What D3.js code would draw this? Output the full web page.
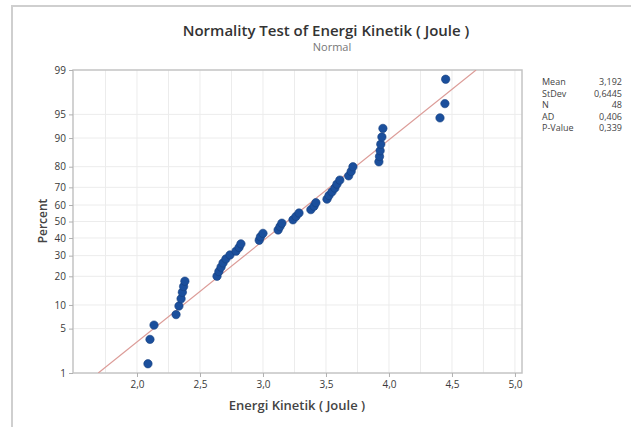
<!DOCTYPE html>
<html>
<head>
<meta charset="utf-8">
<script src="https://cdn.jsdelivr.net/npm/d3@7"></script>
<style>
  body { margin: 0; background: #fff; }
  svg text { font-family: "Open Sans", "Noto Sans", sans-serif; }
</style>
</head>
<body>
<svg id="chart" width="631" height="427"></svg>
<script>
const energi = [2.087, 2.103, 2.135, 2.31, 2.333, 2.35, 2.36, 2.37, 2.38,
  2.635, 2.65, 2.667, 2.683, 2.706, 2.738, 2.786, 2.81, 2.825,
  2.97, 2.98, 3.0, 3.12, 3.135, 3.15,
  3.238, 3.262, 3.286, 3.38, 3.405, 3.42,
  3.508, 3.524, 3.548, 3.571, 3.587, 3.61,
  3.68, 3.70, 3.714,
  3.92, 3.925, 3.93, 3.935, 3.944, 3.952,
  4.405, 4.444, 4.45];
const xTicks = [2.0, 2.5, 3.0, 3.5, 4.0, 4.5, 5.0];
const yTicks = [1, 5, 10, 20, 30, 40, 50, 60, 70, 80, 90, 95, 99];
const statLabels = ["Mean", "StDev", "N", "AD", "P-Value"];
const statValues = ["3,192", "0,6445", "48", "0,406", "0,339"];
const fitMean = 3.192, fitSd = 0.6445;

// inverse normal cdf (Acklam)
function qnorm(p){
  const a=[-3.969683028665376e+01,2.209460984245205e+02,-2.759285104469687e+02,1.383577518672690e+02,-3.066479806614716e+01,2.506628277459239e+00],
        b=[-5.447609879822406e+01,1.615858368580409e+02,-1.556989798598866e+02,6.680131188771972e+01,-1.328068155288572e+01],
        c=[-7.784894002430293e-03,-3.223964580411365e-01,-2.400758277161838e+00,-2.549732539343734e+00,4.374664141464968e+00,2.938163982698783e+00],
        d=[7.784695709041462e-03,3.224671290700398e-01,2.445134137142996e+00,3.754408661907416e+00];
  const pl=0.02425;
  let q,r;
  if (p<pl){ q=Math.sqrt(-2*Math.log(p));
    return (((((c[0]*q+c[1])*q+c[2])*q+c[3])*q+c[4])*q+c[5])/((((d[0]*q+d[1])*q+d[2])*q+d[3])*q+1); }
  if (p>1-pl){ q=Math.sqrt(-2*Math.log(1-p));
    return -(((((c[0]*q+c[1])*q+c[2])*q+c[3])*q+c[4])*q+c[5])/((((d[0]*q+d[1])*q+d[2])*q+d[3])*q+1); }
  q=p-0.5; r=q*q;
  return (((((a[0]*r+a[1])*r+a[2])*r+a[3])*r+a[4])*r+a[5])*q/(((((b[0]*r+b[1])*r+b[2])*r+b[3])*r+b[4])*r+1);
}

const svg = d3.select("#chart");
const plot = {left: 73, right: 522, top: 70, bottom: 373};
const comma = v => d3.format(".1f")(v).replace(".", ",");

const x = d3.scaleLinear().domain([1.492, 5.056]).range([plot.left, plot.right]);
const y = d3.scaleLinear().domain([qnorm(0.01), qnorm(0.99)]).range([plot.bottom, plot.top]);
const yp = pct => y(qnorm(pct / 100));

// outer frame
svg.append("path").attr("d", "M12,427V6H631").attr("fill", "none")
  .attr("stroke", "#cfcfcf").attr("stroke-width", 2);

// gridlines
const grid = svg.append("g").attr("stroke", "#ececec").attr("stroke-width", 1);
grid.selectAll("line.v").data(d3.range(1.75, 5.01, 0.25)).enter().append("line")
  .attr("x1", d => x(d)).attr("x2", d => x(d)).attr("y1", plot.top).attr("y2", plot.bottom);
grid.selectAll("line.h").data(yTicks.slice(1, -1)).enter().append("line")
  .attr("x1", plot.left).attr("x2", plot.right).attr("y1", d => yp(d)).attr("y2", d => yp(d));

// plot border
svg.append("rect").attr("x", plot.left).attr("y", plot.top)
  .attr("width", plot.right - plot.left).attr("height", plot.bottom - plot.top)
  .attr("fill", "none").attr("stroke", "#c4c4c4").attr("stroke-width", 1.5);

// axes
const xAxis = svg.append("g").attr("transform", `translate(0,${plot.bottom})`)
  .call(d3.axisBottom(x).tickValues(xTicks).tickFormat(comma).tickSize(4).tickPadding(4));
const yAxis = svg.append("g").attr("transform", `translate(${plot.left},0)`)
  .call(d3.axisLeft(d3.scaleLinear().domain(y.domain()).range(y.range()))
    .tickValues(yTicks.map(p => qnorm(p / 100))).tickFormat((d, i) => yTicks[i]).tickSize(4).tickPadding(3));
[xAxis, yAxis].forEach(g => {
  g.select(".domain").remove();
  g.selectAll("line").attr("stroke", "#b0b0b0");
  g.selectAll("text").attr("fill", "#3a3a3a").style("font-size", "10px")
    .style("font-family", "\"Open Sans\", sans-serif");
});

// fitted line, clipped to the plot
svg.append("clipPath").attr("id", "clip").append("rect")
  .attr("x", plot.left).attr("y", plot.top)
  .attr("width", plot.right - plot.left).attr("height", plot.bottom - plot.top);
const zLine = [qnorm(0.01), qnorm(0.99)];
svg.append("line").attr("clip-path", "url(#clip)")
  .attr("x1", x(fitMean + zLine[0] * fitSd)).attr("y1", y(zLine[0]))
  .attr("x2", x(fitMean + zLine[1] * fitSd)).attr("y2", y(zLine[1]))
  .attr("stroke", "#dc9c98").attr("stroke-width", 1.2);

// points at median-rank plotting positions
const n = energi.length;
svg.append("g").selectAll("circle").data(energi).enter().append("circle")
  .attr("cx", d => x(d))
  .attr("cy", (d, i) => y(qnorm((i + 1 - 0.3) / (n + 0.4))))
  .attr("r", 4.2).attr("fill", "#1b4f9c").attr("stroke", "#163f80").attr("stroke-width", 0.6);

// titles
svg.append("text").attr("x", 326).attr("y", 36).attr("text-anchor", "middle")
  .style("font-size", "15px").style("font-weight", 600).attr("fill", "#333")
  .text("Normality Test of Energi Kinetik ( Joule )");
svg.append("text").attr("x", 332).attr("y", 51).attr("text-anchor", "middle")
  .style("font-size", "11px").attr("fill", "#777").text("Normal");
svg.append("text").attr("x", 297).attr("y", 410).attr("text-anchor", "middle")
  .style("font-size", "13px").style("font-weight", 600).attr("fill", "#444")
  .text("Energi Kinetik ( Joule )");
svg.append("text").attr("transform", "translate(47,221) rotate(-90)").attr("text-anchor", "middle")
  .style("font-size", "12px").style("font-weight", 600).attr("fill", "#444").text("Percent");

// stats box
const stats = svg.append("g").style("font-size", "9px").attr("fill", "#444");
stats.selectAll("text.l").data(statLabels).enter().append("text")
  .attr("x", 542).attr("y", (d, i) => 85 + i * 11.5).text(d => d);
stats.selectAll("text.v").data(statValues).enter().append("text")
  .attr("x", 622).attr("y", (d, i) => 85 + i * 11.5).attr("text-anchor", "end").text(d => d);
</script>
</body>
</html>
